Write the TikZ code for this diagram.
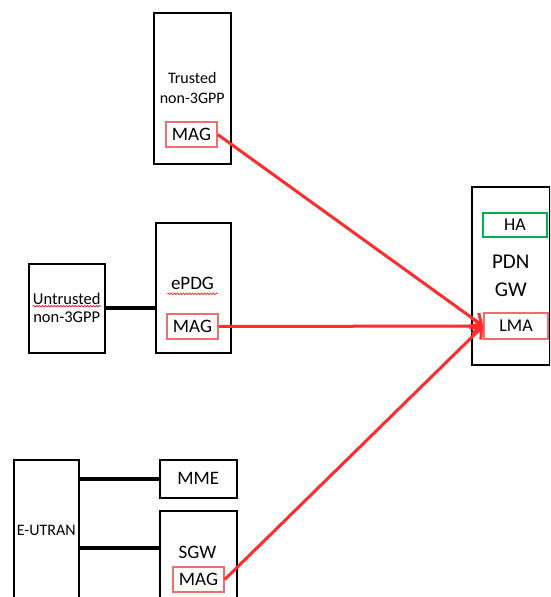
\documentclass[tikz,border=0pt]{standalone}
\usepackage{fontspec}
\setmainfont{Carlito}
\usetikzlibrary{arrows.meta,positioning,decorations.pathmorphing}

\definecolor{tunnelred}{RGB}{255,45,45}
\definecolor{magpink}{RGB}{238,110,110}
\definecolor{hagreen}{RGB}{0,176,80}

\begin{document}
\begin{tikzpicture}[x=1pt,y=-1pt,
   box/.style={draw,line width=1.5pt,inner sep=0pt,align=center},
   agent/.style={draw=magpink,line width=1.5pt,inner sep=0pt,minimum width=51pt,minimum height=25pt,font=\fontsize{19}{22}\selectfont},
   link/.style={line width=4pt},
   tunnel/.style={draw=tunnelred,line width=3pt,-{Straight Barb[length=9pt,width=16pt]}},
   typo/.style={draw=red,line width=0.6pt,decorate,decoration={snake,amplitude=0.8pt,segment length=3pt}}] 
   \useasboundingbox (0,0) rectangle (550,597);
   \clip (0,0) rectangle (550,597);
   % access networks
   \node[box,anchor=north west,minimum width=77pt,minimum height=151pt,font=\fontsize{16}{20}\selectfont] (trusted) at (153,12) {Trusted\\non-3GPP};
   \node[agent] (mag_t) at (191.5,134.5) {MAG};
   \node[box,anchor=north west,minimum width=75pt,minimum height=130pt] (epdg) at (155,222) {};
   \node[font=\fontsize{19}{22}\selectfont] (epdg_txt) at (192.5,283) {ePDG};
   \node[agent] (mag_e) at (192.5,326.5) {MAG};
   \node[box,anchor=north west,minimum width=76pt,minimum height=89pt,font=\fontsize{16.5}{18}\selectfont] (untrusted) at (28,263) {Untrusted\\non-3GPP};
   % 3GPP access
   \node[box,anchor=north west,minimum width=65pt,minimum height=142pt,font=\fontsize{16}{20}\selectfont] (eutran) at (13,459) {E-UTRAN};
   \node[box,anchor=north west,minimum width=77pt,minimum height=38pt,font=\fontsize{19}{22}\selectfont] (mme) at (159,459) {MME};
   \node[box,anchor=north west,minimum width=77pt,minimum height=100pt] (sgw) at (159,510) {};
   \node[font=\fontsize{19}{22}\selectfont] (sgw_txt) at (197.5,552) {SGW};
   \node[agent] (mag_s) at (198.5,579.5) {MAG};
   % PDN gateway
   \node[box,anchor=north west,minimum width=78pt,minimum height=178pt,font=\fontsize{21}{28}\selectfont] (pgw) at (471,186) {PDN\\GW};
   \node[draw=hagreen,line width=1.5pt,minimum width=64pt,minimum height=24pt,inner sep=0pt,font=\fontsize{18}{20}\selectfont] (ha) at (515,225) {HA};
   \node[agent,minimum width=64pt,minimum height=26pt,font=\fontsize{18}{20}\selectfont] (lma) at (516,326) {LMA};
   \coordinate (sgw_link) at (0,548);
   % links
   \draw[link] (untrusted.east) -- (untrusted.east -| epdg.west);
   \draw[link] (eutran.east |- mme.west) -- (mme.west);
   \draw[link] (eutran.east |- sgw_link) -- (sgw.west |- sgw_link);
   % tunnels
   \draw[tunnel] (mag_t.east) -- (lma.west);
   \draw[tunnel] (mag_e.east) -- (lma.west);
   \draw[tunnel] (mag_s.east) -- (lma.west);
   % spell check marks
   \draw[typo] ([xshift=-34pt,yshift=2pt]untrusted.center) -- ([xshift=34pt,yshift=2pt]untrusted.center);
   \draw[typo] ([yshift=-1pt]epdg_txt.south west) -- ([yshift=-1pt]epdg_txt.south east);
\end{tikzpicture}
\end{document}
